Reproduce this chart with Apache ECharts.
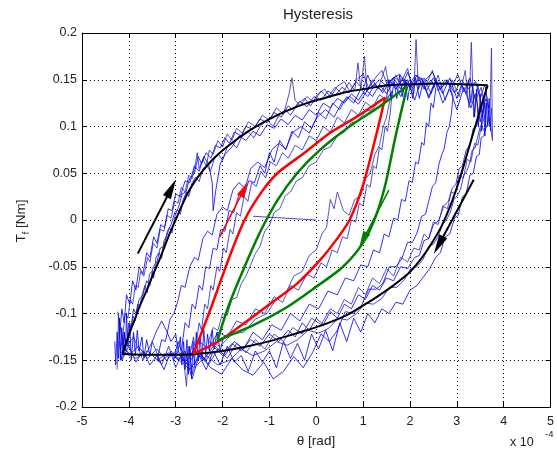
<!DOCTYPE html>
<html lang="en">
<head>
    <meta charset="UTF-8">
    <title>Hysteresis</title>
    <script src="https://cdn.jsdelivr.net/npm/echarts@6/dist/echarts.min.js"></script>
    <style>
        html, body { margin: 0; padding: 0; background: #fff; }
    </style>
</head>
<body>
    <div id="main" style="width: 557px;height:452px;"></div>
    <script>
        // x in units of 1e-4 rad, y in Nm
        // measured traces (blue)
        var blue1 = [[-4.2,-0.13],[-4.15,-0.15],[-4.1,-0.12],[-4.05,-0.135],[-4.0,-0.11],[-3.95,-0.115],[-3.9,-0.095],[-3.85,-0.1],[-3.78,-0.085],[-3.7,-0.08],[-3.62,-0.065],[-3.55,-0.07],[-3.48,-0.05],[-3.4,-0.045],[-3.33,-0.03],[-3.25,-0.028],[-3.18,-0.012],[-3.1,-0.005],[-3.02,0.008],[-2.95,0.012],[-2.86,0.028],[-2.78,0.03],[-2.7,0.045],[-2.6,0.05],[-2.52,0.068],[-2.45,0.06],[-2.35,0.072],[-2.25,0.066],[-2.15,0.08],[-2.05,0.077],[-1.95,0.088],[-1.85,0.082],[-1.75,0.094],[-1.6,0.09],[-1.5,0.1],[-1.35,0.097],[-1.2,0.108],[-1.05,0.104],[-0.9,0.115],[-0.75,0.11],[-0.6,0.122],[-0.5,0.118],[-0.35,0.127],[-0.2,0.121],[-0.05,0.132],[0.1,0.128],[0.25,0.138],[0.4,0.133],[0.55,0.142],[0.7,0.136],[0.85,0.148],[1.0,0.14],[1.1,0.155],[1.2,0.142],[1.35,0.15],[1.5,0.143],[1.65,0.152],[1.8,0.14],[1.95,0.158],[2.05,0.145],[2.2,0.15],[2.35,0.138],[2.5,0.152],[2.65,0.14],[2.8,0.148],[2.95,0.136],[3.1,0.15],[3.25,0.14],[3.4,0.148],[3.5,0.13],[3.6,0.145],[3.68,0.12],
            [3.62,0.13],[3.55,0.115],[3.5,0.118],[3.42,0.1],[3.35,0.098],[3.28,0.08],[3.2,0.075],[3.12,0.058],[3.05,0.055],[2.98,0.038],[2.9,0.034],[2.82,0.02],[2.72,0.015],[2.62,0.0],[2.5,-0.005],[2.4,-0.02],[2.3,-0.022],[2.2,-0.038],[2.1,-0.04],[1.95,-0.052],[1.8,-0.05],[1.65,-0.065],[1.5,-0.062],[1.35,-0.075],[1.2,-0.07],[1.05,-0.085],[0.9,-0.08],[0.75,-0.095],[0.6,-0.09],[0.45,-0.105],[0.3,-0.098],[0.15,-0.112],[0.0,-0.105],[-0.15,-0.118],[-0.3,-0.11],[-0.45,-0.125],[-0.6,-0.118],[-0.8,-0.13],[-1.0,-0.122],[-1.2,-0.135],[-1.4,-0.128],[-1.6,-0.14],[-1.8,-0.132],[-2.0,-0.145],[-2.2,-0.135],[-2.4,-0.15],[-2.6,-0.138],[-2.8,-0.152],[-3.0,-0.14],[-3.2,-0.15],[-3.4,-0.138],[-3.6,-0.148],[-3.8,-0.135],[-4.0,-0.145],[-4.15,-0.13]];
        var blue2 = [[-4.25,-0.16],[-4.22,-0.1],[-4.18,-0.14],[-4.12,-0.12],[-4.08,-0.1],[-4.02,-0.105],[-3.97,-0.085],[-3.92,-0.09],[-3.86,-0.07],[-3.8,-0.072],[-3.75,-0.055],[-3.68,-0.06],[-3.6,-0.04],[-3.55,-0.045],[-3.48,-0.025],[-3.4,-0.03],[-3.33,-0.01],[-3.25,-0.012],[-3.18,0.005],[-3.1,0.002],[-3.02,0.02],[-2.95,0.018],[-2.88,0.035],[-2.8,0.03],[-2.72,0.048],[-2.65,0.044],[-2.58,0.06],[-2.54,0.072],[-2.5,0.055],[-2.42,0.065],[-2.35,0.058],[-2.28,0.075],[-2.2,0.07],[-2.1,0.085],[-2.0,0.078],[-1.9,0.092],[-1.8,0.085],[-1.7,0.098],[-1.58,0.093],[-1.45,0.105],[-1.3,0.1],[-1.15,0.112],[-1.0,0.107],[-0.85,0.12],[-0.7,0.113],[-0.58,0.135],[-0.52,0.152],[-0.45,0.128],[-0.35,0.122],[-0.2,0.132],[-0.05,0.126],[0.1,0.138],[0.25,0.131],[0.4,0.142],[0.55,0.135],[0.7,0.147],[0.82,0.138],[0.89,0.168],[0.95,0.14],[1.03,0.175],[1.08,0.138],[1.2,0.15],[1.32,0.14],[1.48,0.164],[1.55,0.142],[1.7,0.155],[1.85,0.14],[2.0,0.15],[2.08,0.135],[2.13,0.193],[2.18,0.14],[2.3,0.152],[2.45,0.135],[2.6,0.155],[2.75,0.128],[2.9,0.15],[3.05,0.132],[3.18,0.16],[3.26,0.12],[3.31,0.19],[3.36,0.11],[3.45,0.145],[3.55,0.11],[3.62,0.14],[3.7,0.1],[3.74,0.184],[3.76,0.085],
            [3.7,0.11],[3.6,0.095],[3.52,0.1],[3.45,0.08],[3.38,0.082],[3.3,0.062],[3.22,0.065],[3.14,0.045],[3.05,0.048],[2.97,0.028],[2.88,0.03],[2.8,0.012],[2.7,0.015],[2.6,-0.005],[2.5,-0.002],[2.4,-0.02],[2.3,-0.015],[2.2,-0.032],[2.08,-0.03],[1.95,-0.045],[1.8,-0.04],[1.65,-0.06],[1.5,-0.052],[1.35,-0.068],[1.2,-0.062],[1.05,-0.08],[0.9,-0.072],[0.75,-0.09],[0.6,-0.085],[0.45,-0.1],[0.3,-0.095],[0.1,-0.112],[-0.1,-0.105],[-0.3,-0.122],[-0.5,-0.115],[-0.7,-0.13],[-0.9,-0.122],[-1.1,-0.138],[-1.3,-0.128],[-1.5,-0.142],[-1.7,-0.132],[-1.9,-0.148],[-2.1,-0.138],[-2.3,-0.155],[-2.5,-0.14],[-2.65,-0.165],[-2.72,-0.135],[-2.77,-0.178],[-2.85,-0.14],[-3.0,-0.158],[-3.15,-0.135],[-3.3,-0.155],[-3.5,-0.13],[-3.7,-0.15],[-3.9,-0.125],[-4.1,-0.14],[-4.24,-0.098]];
        var blue3 = [[-4.2,-0.125],[-4.15,-0.095],[-4.1,-0.11],[-4.05,-0.08],[-3.98,-0.09],[-3.92,-0.065],[-3.85,-0.075],[-3.78,-0.05],[-3.7,-0.058],[-3.62,-0.035],[-3.55,-0.04],[-3.47,-0.018],[-3.4,-0.025],[-3.32,-0.005],[-3.24,-0.008],[-3.16,0.012],[-3.08,0.01],[-3.0,0.028],[-2.9,0.025],[-2.8,0.042],[-2.7,0.04],[-2.6,0.058],[-2.5,0.052],[-2.4,0.068],[-2.3,0.06],[-2.22,0.04],[-2.2,0.01],[-2.15,0.03],[-2.05,0.06],[-1.95,0.07],[-1.8,0.078],[-1.65,0.09],[-1.5,0.085],[-1.35,0.095],[-1.2,0.09],[-1.05,0.102],[-0.9,0.098],[-0.75,0.108],[-0.6,0.102],[-0.45,0.112],[-0.3,0.107],[-0.15,0.118],[0,0.112],[0.15,0.125],[0.3,0.12],[0.45,0.13],[0.6,0.125],[0.75,0.135],[0.9,0.128],[1.05,0.14],[1.2,0.132],[1.35,0.145],[1.5,0.135],[1.65,0.148],[1.8,0.132],[1.95,0.15],[2.1,0.128],[2.25,0.152],[2.4,0.13],[2.55,0.148],[2.7,0.125],[2.85,0.14],[3.0,0.118],[3.15,0.142],[3.3,0.12],[3.4,0.135],[3.5,0.105],[3.6,0.125],
            [3.62,0.105],[3.58,0.09],[3.52,0.088],[3.48,0.07],[3.42,0.068],[3.35,0.05],[3.28,0.048],[3.2,0.028],[3.12,0.025],[3.03,0.005],[2.95,0.002],[2.85,-0.015],[2.75,-0.018],[2.65,-0.035],[2.55,-0.04],[2.42,-0.052],[2.3,-0.06],[2.15,-0.07],[2.0,-0.075],[1.85,-0.09],[1.7,-0.088],[1.55,-0.1],[1.4,-0.095],[1.25,-0.11],[1.1,-0.1],[0.95,-0.12],[0.8,-0.105],[0.65,-0.13],[0.5,-0.11],[0.35,-0.14],[0.2,-0.118],[0.05,-0.138],[-0.1,-0.122],[-0.25,-0.15],[-0.4,-0.132],[-0.55,-0.148],[-0.7,-0.13],[-0.85,-0.158],[-1.0,-0.14],[-1.15,-0.152],[-1.3,-0.14],[-1.45,-0.162],[-1.6,-0.145],[-1.75,-0.152],[-1.9,-0.135],[-2.05,-0.155],[-2.2,-0.14],[-2.35,-0.16],[-2.5,-0.145],[-2.65,-0.17],[-2.8,-0.14],[-2.95,-0.15],[-3.1,-0.14],[-3.25,-0.16],[-3.4,-0.145],[-3.55,-0.155],[-3.7,-0.14],[-3.85,-0.152],[-4.0,-0.135],[-4.15,-0.15]];
        var blue4 = [[-2.7,-0.145],[-2.62,-0.125],[-2.58,-0.14],[-2.5,-0.11],[-2.45,-0.118],[-2.38,-0.09],[-2.32,-0.095],[-2.25,-0.07],[-2.2,-0.075],[-2.12,-0.05],[-2.06,-0.055],[-1.98,-0.03],[-1.92,-0.035],[-1.84,-0.01],[-1.78,-0.015],[-1.7,0.008],[-1.62,0.004],[-1.54,0.025],[-1.46,0.02],[-1.38,0.04],[-1.28,0.036],[-1.18,0.052],[-1.08,0.045],[-0.98,0.062],[-0.85,0.058],[-0.72,0.072],[-0.6,0.066],[-0.45,0.08],[-0.3,0.075],[-0.15,0.09],[0.0,0.085],[0.15,0.1],[0.3,0.094],[0.45,0.11],[0.6,0.104],[0.75,0.118],[0.9,0.112],[1.05,0.126],[1.2,0.12],[1.35,0.134],[1.5,0.128],[1.62,0.138],
            [1.58,0.115],[1.52,0.095],[1.47,0.1],[1.4,0.075],[1.35,0.078],[1.28,0.055],[1.22,0.058],[1.15,0.035],[1.08,0.038],[1.0,0.015],[0.92,0.018],[0.84,-0.002],[0.75,0.0],[0.66,-0.02],[0.56,-0.018],[0.45,-0.035],[0.34,-0.032],[0.22,-0.05],[0.1,-0.046],[-0.05,-0.062],[-0.2,-0.058],[-0.38,-0.075],[-0.55,-0.07],[-0.72,-0.088],[-0.9,-0.082],[-1.1,-0.1],[-1.3,-0.095],[-1.5,-0.112],[-1.7,-0.108],[-1.9,-0.125],[-2.1,-0.12],[-2.3,-0.138],[-2.5,-0.13],[-2.7,-0.148]];
        var blue5 = [[-3.05,-0.15],[-2.95,-0.13],[-2.88,-0.14],[-2.8,-0.11],[-2.72,-0.115],[-2.65,-0.09],[-2.58,-0.095],[-2.5,-0.07],[-2.43,-0.075],[-2.36,-0.05],[-2.28,-0.052],[-2.2,-0.03],[-2.12,-0.032],[-2.04,-0.01],[-1.95,-0.012],[-1.86,0.01],[-1.76,0.008],[-1.65,0.028],[-1.55,0.024],[-1.44,0.042],[-1.32,0.04],[-1.2,0.058],[-1.1,0.05],[-1.0,0.072],[-0.9,0.062],[-0.78,0.085],[-0.65,0.075],[-0.52,0.095],[-0.38,0.088],[-0.25,0.105],[-0.1,0.098],[0.05,0.115],[0.2,0.108],[0.35,0.125],[0.5,0.118],[0.65,0.132],[0.8,0.125],[0.95,0.14],[1.1,0.132],[1.25,0.145],[1.4,0.138],[1.55,0.15],[1.7,0.14],[1.85,0.152],[2.0,0.142],[2.15,0.155],[2.3,0.14],[2.45,0.15],[2.55,0.14],
            [2.5,0.12],[2.45,0.125],[2.4,0.1],[2.35,0.104],[2.3,0.08],[2.25,0.083],[2.18,0.06],[2.12,0.062],[2.05,0.04],[1.98,0.042],[1.9,0.02],[1.82,0.022],[1.74,0.0],[1.65,0.002],[1.55,-0.018],[1.45,-0.015],[1.35,-0.035],[1.22,-0.032],[1.1,-0.05],[0.95,-0.048],[0.8,-0.065],[0.62,-0.062],[0.45,-0.08],[0.25,-0.076],[0.05,-0.095],[-0.15,-0.09],[-0.35,-0.108],[-0.55,-0.1],[-0.75,-0.118],[-0.95,-0.112],[-1.15,-0.128],[-1.35,-0.12],[-1.55,-0.138],[-1.75,-0.13],[-1.95,-0.145],[-2.15,-0.135],[-2.35,-0.15],[-2.55,-0.14],[-2.75,-0.155],[-2.95,-0.14],[-3.05,-0.15]];
        var blue6 = [[-2.3,-0.13],[-2.2,-0.115],[-2.1,-0.118],[-2.0,-0.1],[-1.9,-0.102],[-1.8,-0.085],[-1.7,-0.083],[-1.6,-0.068],[-1.5,-0.06],[-1.4,-0.048],[-1.3,-0.036],[-1.2,-0.028],[-1.1,-0.012],[-1.0,-0.006],[-0.9,0.008],[-0.78,0.012],[-0.66,0.026],[-0.55,0.03],[-0.42,0.042],[-0.3,0.045],[-0.15,0.058],[0.0,0.062],[0.15,0.075],[0.3,0.078],[0.45,0.09],[0.6,0.094],[0.75,0.104],[0.9,0.106],[1.05,0.116],[1.2,0.118],[1.35,0.128],[1.5,0.13],[1.6,0.136],
            [1.5,0.11],[1.42,0.098],[1.35,0.08],[1.25,0.07],[1.15,0.05],[1.05,0.044],[0.95,0.026],[0.82,0.022],[0.7,0.005],[0.58,0.01],[0.45,0.03],[0.38,0.012],[0.3,0.022],[0.22,-0.008],[0.12,-0.015],[0.0,-0.032],[-0.15,-0.038],[-0.3,-0.055],[-0.48,-0.06],[-0.65,-0.078],[-0.85,-0.084],[-1.05,-0.1],[-1.3,-0.106],[-1.55,-0.12],[-1.8,-0.122],[-2.05,-0.135],[-2.3,-0.13]];
        var blue7 = [[-4.3,-0.13],[-4.28,-0.155],[-4.25,-0.12],[-4.22,-0.148],[-4.2,-0.105],[-4.18,-0.15],[-4.15,-0.115],[-4.12,-0.145],[-4.1,-0.12],[-4.07,-0.14],[-4.05,-0.1],[-4.02,-0.135],[-3.98,-0.11],[-3.95,-0.15],[-3.9,-0.12],[-3.86,-0.145],[-3.82,-0.118],[-3.78,-0.14],[-3.72,-0.125],[-3.68,-0.148],[-3.62,-0.128],[-3.55,-0.145],[-3.5,-0.13],[-3.42,-0.12],[-3.3,-0.108],[-3.2,-0.118],[-3.1,-0.13],[-3.0,-0.122],[-2.95,-0.14],[-2.9,-0.125],[-2.87,-0.155],[-2.83,-0.13],[-2.8,-0.16],[-2.76,-0.128],[-2.73,-0.165],[-2.7,-0.135],[-2.66,-0.17],[-2.63,-0.13],[-2.6,-0.155],[-2.56,-0.12],[-2.52,-0.15],[-2.48,-0.125],[-2.44,-0.148],[-2.4,-0.118],[-2.36,-0.145],[-2.32,-0.122],[-2.28,-0.14],[-2.22,-0.118],[-2.18,-0.138],[-2.12,-0.12],[-2.05,-0.14],[-1.98,-0.125]];
        var blue8 = [[1.5,0.13],[1.55,0.15],[1.6,0.128],[1.66,0.148],[1.72,0.13],[1.78,0.155],[1.84,0.132],[1.9,0.15],[1.95,0.128],[2.0,0.145],[2.06,0.13],[2.12,0.152],[2.2,0.13],[2.28,0.148],[2.4,0.132],[2.55,0.15],[2.7,0.135],[2.85,0.152],[3.0,0.13],[3.1,0.145],[3.2,0.135],[3.25,0.15],[3.3,0.125],[3.34,0.145],[3.38,0.11],[3.42,0.14],[3.46,0.1],[3.5,0.135],[3.53,0.095],[3.57,0.13],[3.6,0.09],[3.63,0.125],[3.66,0.1],[3.69,0.13],[3.72,0.095],[3.74,0.12]];
        var blue9 = [[-1.35,0.004],[0.0,0.0]];
        var blue10 = [[-4.1,-0.145],[-4.06,-0.128],[-4.03,-0.132],[-3.99,-0.118],[-3.94,-0.112],[-3.91,-0.103],[-3.86,-0.108],[-3.81,-0.09],[-3.77,-0.094],[-3.72,-0.081],[-3.66,-0.07],[-3.61,-0.078],[-3.56,-0.058],[-3.51,-0.055],[-3.47,-0.062],[-3.42,-0.04],[-3.36,-0.035],[-3.3,-0.041],[-3.25,-0.022],[-3.2,-0.018],[-3.13,-0.008],[-3.08,-0.014],[-3.02,0.004],[-2.96,0.011],[-2.9,0.006],[-2.84,0.022],[-2.77,0.03],[-2.72,0.025],[-2.65,0.04],[-2.57,0.046],[-2.5,0.041],[-2.42,0.055],[-2.33,0.058],[-2.26,0.052],[-2.17,0.066],[-2.08,0.07],[-2.0,0.064],[-1.9,0.078],[-1.8,0.083],[-1.7,0.077],[-1.58,0.09],[-1.45,0.094],[-1.33,0.088],[-1.2,0.1],[-1.05,0.107],[-0.92,0.1],[-0.8,0.112],[-0.66,0.118],[-0.55,0.112],[-0.4,0.124],[-0.25,0.13],[-0.12,0.122],[0.02,0.134],[0.18,0.14],[0.3,0.131],[0.45,0.143],[0.6,0.148],[0.72,0.137],[0.86,0.15],[1.0,0.156],[1.12,0.141],[1.26,0.152],[1.4,0.16],[1.52,0.144],[1.66,0.153],[1.8,0.147],[1.95,0.162],[2.05,0.141],[2.2,0.153],[2.35,0.145],[2.48,0.16],[2.6,0.138],[2.75,0.15],[2.9,0.142],[3.02,0.156],[3.15,0.137],[3.28,0.152],[3.4,0.128],[3.52,0.142],[3.62,0.115],
            [3.55,0.104],[3.5,0.1],[3.44,0.088],[3.39,0.077],[3.33,0.075],[3.27,0.06],[3.21,0.052],[3.15,0.048],[3.08,0.033],[3.01,0.026],[2.94,0.022],[2.86,0.008],[2.78,0.0],[2.7,-0.004],[2.6,-0.018],[2.5,-0.026],[2.4,-0.028],[2.28,-0.042],[2.15,-0.05],[2.02,-0.052],[1.88,-0.064],[1.72,-0.072],[1.56,-0.072],[1.4,-0.084],[1.22,-0.09],[1.05,-0.089],[0.86,-0.1],[0.66,-0.107],[0.47,-0.105],[0.26,-0.116],[0.05,-0.121],[-0.17,-0.118],[-0.4,-0.128],[-0.62,-0.134],[-0.85,-0.13],[-1.1,-0.14],[-1.35,-0.145],[-1.6,-0.138],[-1.85,-0.15],[-2.1,-0.155],[-2.35,-0.145],[-2.6,-0.158],[-2.85,-0.15],[-3.1,-0.143],[-3.35,-0.152],[-3.6,-0.14],[-3.85,-0.148],[-4.1,-0.138]];
        var blue11 = [[-3.4,-0.15],[-3.3,-0.128],[-3.22,-0.13],[-3.12,-0.106],[-3.04,-0.1],[-2.96,-0.088],[-2.88,-0.07],[-2.8,-0.072],[-2.7,-0.05],[-2.6,-0.04],[-2.52,-0.043],[-2.42,-0.02],[-2.32,-0.012],[-2.22,-0.016],[-2.12,0.006],[-2.0,0.014],[-1.9,0.01],[-1.78,0.032],[-1.65,0.04],[-1.52,0.034],[-1.4,0.055],[-1.25,0.062],[-1.1,0.056],[-0.95,0.075],[-0.8,0.082],[-0.65,0.076],[-0.5,0.094],[-0.32,0.1],[-0.15,0.093],[0.02,0.11],[0.2,0.118],[0.38,0.11],[0.55,0.126],[0.72,0.132],[0.9,0.124],[1.08,0.138],[1.25,0.146],[1.42,0.136],[1.6,0.15],[1.78,0.156],[1.95,0.142],[2.12,0.155],[2.3,0.148],[2.48,0.158],[2.65,0.14],[2.8,0.15],[2.92,0.132],
            [2.88,0.112],[2.84,0.1],[2.79,0.094],[2.73,0.076],[2.68,0.07],[2.62,0.06],[2.55,0.04],[2.48,0.036],[2.41,0.022],[2.33,0.006],[2.25,0.004],[2.15,-0.014],[2.05,-0.024],[1.95,-0.024],[1.82,-0.042],[1.7,-0.05],[1.56,-0.05],[1.42,-0.068],[1.28,-0.074],[1.12,-0.074],[0.96,-0.092],[0.8,-0.1],[0.62,-0.098],[0.45,-0.118],[0.28,-0.13],[0.1,-0.122],[-0.08,-0.142],[-0.28,-0.158],[-0.48,-0.146],[-0.7,-0.162],[-0.92,-0.17],[-1.12,-0.152],[-1.35,-0.166],[-1.58,-0.16],[-1.8,-0.148],[-2.02,-0.165],[-2.25,-0.158],[-2.48,-0.145],[-2.7,-0.16],[-2.92,-0.15],[-3.15,-0.142],[-3.4,-0.15]];

        // model curves
        var blackUp = [[-4.14,-0.143],[-4.09,-0.136],[-4.0,-0.123],[-3.88,-0.107],[-3.75,-0.09],[-3.6,-0.073],[-3.48,-0.058],[-3.35,-0.043],[-3.14,-0.016],[-3.02,-0.002],[-2.89,0.013],[-2.75,0.028],[-2.61,0.04],[-2.45,0.051],[-2.26,0.062],[-2.1,0.07],[-1.91,0.078],[-1.65,0.088],[-1.39,0.097],[-1.0,0.108],[-0.62,0.117],[-0.2,0.125],[0.22,0.131],[0.65,0.137],[1.13,0.141],[1.55,0.144],[1.97,0.145],[2.6,0.146],[3.24,0.145],[3.66,0.144]];
        var blackDown = [[3.66,0.144],[3.62,0.138],[3.55,0.127],[3.44,0.108],[3.31,0.086],[3.17,0.062],[3.03,0.039],[2.86,0.015],[2.68,-0.006],[2.5,-0.022],[2.33,-0.035],[2.15,-0.047],[1.97,-0.057],[1.62,-0.071],[1.27,-0.083],[0.95,-0.093],[0.64,-0.102],[0.1,-0.113],[-0.41,-0.121],[-0.95,-0.129],[-1.46,-0.135],[-2.0,-0.14],[-2.52,-0.143],[-2.9,-0.144],[-3.22,-0.144],[-3.7,-0.144],[-4.14,-0.143]];
        var redUp = [[-2.62,-0.143],[-2.24,-0.093],[-1.88,-0.043],[-1.53,0.0],[-1.18,0.029],[-0.83,0.05],[-0.27,0.071],[0.29,0.093],[0.85,0.11],[1.47,0.131]];
        var redDown = [[1.47,0.131],[1.27,0.089],[0.99,0.036],[0.71,0.0],[0.43,-0.021],[0.08,-0.043],[-0.41,-0.068],[-0.97,-0.089],[-1.53,-0.11],[-2.09,-0.13],[-2.62,-0.143]];
        var greenUp = [[-2.11,-0.129],[-1.88,-0.093],[-1.53,-0.05],[-1.18,-0.011],[-0.83,0.021],[-0.41,0.05],[0.08,0.075],[0.71,0.1],[1.34,0.121],[1.94,0.143]];
        var greenDown = [[1.94,0.143],[1.69,0.089],[1.48,0.039],[1.27,0.004],[0.99,-0.025],[0.57,-0.05],[0.01,-0.071],[-0.62,-0.093],[-1.32,-0.112],[-2.11,-0.129]];

        // arrows: [tail, head]
        var blackArrowL = [[-3.81,-0.036],[-3.09,0.034]];
        var blackArrowR = [[3.36,0.043],[2.61,-0.027]];
        var redArrow = [[-2.06,-0.018],[-1.54,0.033]];
        var greenArrow = [[1.55,0.032],[1.0,-0.021]];

        var blueTraces = [blue1, blue2, blue3, blue4, blue5, blue6, blue7, blue8, blue9, blue10, blue11];
        var blueColors = ['#0000ff', '#2a2ab8', '#0000ee', '#2020c8', '#0000ff', '#3030b0', '#0000f0', '#0000f0', '#2020c0', '#1818d0', '#0000ff'];

        var chart = echarts.init(document.getElementById('main'));
        var font = 'Liberation Sans';

        var series = [];
        blueTraces.forEach(function (tr, i) {
            series.push({
                type: 'line', data: tr, showSymbol: false, silent: true, animation: false,
                lineStyle: { color: blueColors[i], width: 0.9, opacity: 0.9 }
            });
        });

        function model(data, color, width) {
            return {
                type: 'line', data: data, showSymbol: false, animation: false, z: 3,
                smooth: 0.3,
                lineStyle: { color: color, width: width }
            };
        }
        series.push(model(blackUp, '#000', 2));
        series.push(model(blackDown, '#000', 2));
        series.push(model(redUp, '#ff0000', 2.5));
        series.push(model(redDown, '#ff0000', 2.5));
        series.push(model(greenUp, '#008000', 2.5));
        series.push(model(greenDown, '#008000', 2.5));

        function arrow(pts, color, width, size) {
            return {
                type: 'line', data: [], z: 4,
                markLine: {
                    silent: true, animation: false,
                    symbol: ['none', 'triangle'],
                    symbolSize: size,
                    label: { show: false },
                    lineStyle: { color: color, width: width, type: 'solid' },
                    data: [[{ coord: pts[0] }, { coord: pts[1] }]]
                }
            };
        }
        series.push(arrow(blackArrowL, '#000', 2, [9, 20]));
        series.push(arrow(blackArrowR, '#000', 2, [9, 20]));
        series.push(arrow(redArrow, '#ff0000', 1.5, [8, 16]));
        series.push(arrow(greenArrow, '#008000', 1.5, [8, 16]));

        var gridDots = { show: true, lineStyle: { color: '#000', width: 1, type: [1, 3] } };
        var labelStyle = { color: '#222', fontFamily: font, fontSize: 12.5 };

        var option = {
            backgroundColor: '#fff',
            animation: false,
            grid: { left: 82, right: 1, top: 33, bottom: 45 },
            xAxis: [{
                type: 'value', min: -5, max: 5, interval: 1, position: 'bottom',
                axisLine: { show: true, onZero: false, lineStyle: { color: '#000' } },
                axisTick: { show: true, inside: true, length: 5, lineStyle: { color: '#000' } },
                axisLabel: Object.assign({ margin: 8 }, labelStyle),
                splitLine: gridDots
            }, {
                type: 'value', min: -5, max: 5, interval: 1, position: 'top',
                axisLine: { show: true, onZero: false, lineStyle: { color: '#000' } },
                axisTick: { show: true, inside: true, length: 5, lineStyle: { color: '#000' } },
                axisLabel: { show: false },
                splitLine: { show: false }
            }],
            yAxis: [{
                type: 'value', min: -0.2, max: 0.2, interval: 0.05, position: 'left',
                axisLine: { show: true, onZero: false, lineStyle: { color: '#000' } },
                axisTick: { show: true, inside: true, length: 5, lineStyle: { color: '#000' } },
                axisLabel: Object.assign({
                    margin: 5,
                    formatter: function (v) { return String(+v.toFixed(2)); }
                }, labelStyle),
                splitLine: gridDots
            }, {
                type: 'value', min: -0.2, max: 0.2, interval: 0.05, position: 'right',
                axisLine: { show: true, onZero: false, lineStyle: { color: '#000' } },
                axisTick: { show: true, inside: true, length: 5, lineStyle: { color: '#000' } },
                axisLabel: { show: false },
                splitLine: { show: false }
            }],
            graphic: [
                { type: 'text', x: 318, y: 15, style: { text: 'Hysteresis', fontFamily: font, fontSize: 15, fill: '#222', textAlign: 'center', textVerticalAlign: 'middle' } },
                { type: 'text', x: 316, y: 441, style: { text: 'θ [rad]', fontFamily: font, fontSize: 13.5, fill: '#222', textAlign: 'center', textVerticalAlign: 'middle' } },
                { type: 'text', x: 510, y: 443, style: { text: 'x 10', fontFamily: font, fontSize: 12.5, fill: '#222', textAlign: 'left', textVerticalAlign: 'middle' } },
                { type: 'text', x: 545, y: 434, style: { text: '-4', fontFamily: font, fontSize: 9.5, fill: '#222', textAlign: 'left', textVerticalAlign: 'middle' } },
                {
                    type: 'text', x: 21, y: 221, rotation: Math.PI / 2,
                    style: {
                        text: 'T{sub|f} [Nm]', fontFamily: font, fontSize: 13.5, fill: '#222',
                        textAlign: 'center', textVerticalAlign: 'middle', lineHeight: 20,
                        rich: { sub: { fontSize: 9, fontFamily: font, fill: '#222', verticalAlign: 'bottom', lineHeight: 20 } }
                    }
                }
            ],
            series: series
        };
        series.forEach(function (s) { s.xAxisIndex = 0; s.yAxisIndex = 0; });

        chart.setOption(option);
    </script>
</body>
</html>
